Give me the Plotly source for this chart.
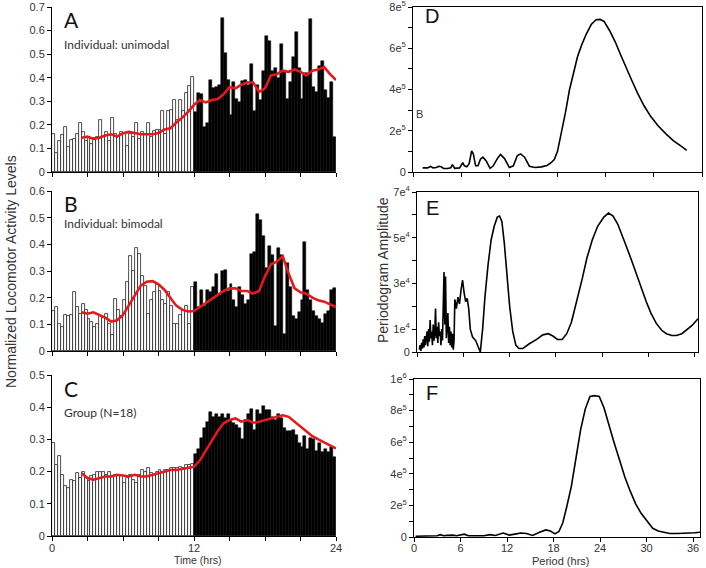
import numpy as np
import plotly.graph_objects as go

W, H = 706, 568

# ---------------- data ----------------
bin_hours = 0.25  # 15-min bins

A_light = [0.16, 0.08, 0.13, 0.155, 0.19, 0.105, 0.135, 0.14, 0.16, 0.21, 0.17, 0.13,
           0.15, 0.12, 0.145, 0.15, 0.22, 0.15, 0.17, 0.13, 0.23, 0.16, 0.15, 0.17,
           0.165, 0.11, 0.16, 0.15, 0.21, 0.14, 0.17, 0.16, 0.21, 0.15, 0.175, 0.18,
           0.18, 0.26, 0.16, 0.26, 0.265, 0.305, 0.22, 0.305, 0.26, 0.335, 0.365, 0.405]
A_dark = [0.255, 0.335, 0.33, 0.19, 0.21, 0.39, 0.355, 0.36, 0.37, 0.655, 0.505, 0.39,
          0.24, 0.38, 0.31, 0.295, 0.385, 0.39, 0.37, 0.46, 0.26, 0.37, 0.305, 0.43,
          0.575, 0.555, 0.43, 0.44, 0.40, 0.545, 0.43, 0.31, 0.38, 0.49, 0.595, 0.44,
          0.31, 0.42, 0.42, 0.65, 0.36, 0.34, 0.45, 0.47, 0.35, 0.315, 0.38, 0.15]

B_light = [0.15, 0.165, 0.10, 0.09, 0.135, 0.13, 0.135, 0.22, 0.165, 0.14, 0.175, 0.155,
           0.12, 0.11, 0.09, 0.10, 0.13, 0.125, 0.14, 0.10, 0.06, 0.195, 0.155, 0.13,
           0.19, 0.26, 0.355, 0.30, 0.385, 0.365, 0.28, 0.245, 0.14, 0.19, 0.22, 0.25,
           0.225, 0.19, 0.175, 0.22, 0.17, 0.10, 0.10, 0.135, 0.155, 0.17, 0.10, 0.24]
B_dark = [0.26, 0.165, 0.23, 0.17, 0.23, 0.22, 0.24, 0.29, 0.21, 0.30, 0.305, 0.225,
          0.25, 0.19, 0.165, 0.24, 0.21, 0.175, 0.19, 0.365, 0.37, 0.515, 0.49, 0.43,
          0.31, 0.395, 0.36, 0.095, 0.385, 0.36, 0.065, 0.33, 0.24, 0.13, 0.12, 0.145,
          0.19, 0.41, 0.23, 0.19, 0.15, 0.13, 0.12, 0.105, 0.14, 0.15, 0.23, 0.235]

C_light = [0.29, 0.22, 0.25, 0.19, 0.155, 0.15, 0.175, 0.17, 0.195, 0.18, 0.20, 0.18,
           0.17, 0.185, 0.19, 0.20, 0.20, 0.20, 0.19, 0.20, 0.185, 0.19, 0.19, 0.185,
           0.165, 0.18, 0.19, 0.175, 0.165, 0.19, 0.205, 0.20, 0.21, 0.195, 0.19, 0.20,
           0.205, 0.20, 0.205, 0.205, 0.21, 0.21, 0.21, 0.215, 0.21, 0.22, 0.22, 0.225]
C_dark = [0.255, 0.27, 0.305, 0.335, 0.355, 0.385, 0.37, 0.38, 0.37, 0.38, 0.365, 0.38,
          0.36, 0.35, 0.345, 0.335, 0.30, 0.36, 0.38, 0.395, 0.33, 0.39, 0.38, 0.405,
          0.39, 0.39, 0.37, 0.36, 0.38, 0.365, 0.335, 0.325, 0.325, 0.33, 0.315, 0.29,
          0.275, 0.31, 0.27, 0.305, 0.30, 0.265, 0.29, 0.26, 0.27, 0.26, 0.275, 0.245]

avg_hours = [2.5, 3, 3.5, 4, 4.5, 5, 5.5, 6, 6.5, 7, 7.5, 8, 8.5, 9, 9.5, 10, 10.5, 11,
             11.5, 12, 12.5, 13, 13.5, 14, 14.5, 15, 15.5, 16, 16.5, 17, 17.5, 18, 18.5,
             19, 19.5, 20, 20.5, 21, 21.5, 22, 22.5, 23, 23.5, 24]
A_avg = [0.145, 0.15, 0.14, 0.145, 0.155, 0.16, 0.15, 0.165, 0.17, 0.165, 0.16, 0.16,
         0.16, 0.165, 0.18, 0.185, 0.21, 0.23, 0.255, 0.285, 0.305, 0.295, 0.305, 0.31,
         0.33, 0.36, 0.355, 0.37, 0.38, 0.38, 0.34, 0.355, 0.41, 0.415, 0.43, 0.425,
         0.435, 0.425, 0.41, 0.43, 0.435, 0.445, 0.415, 0.39]
B_avg = [0.145, 0.14, 0.145, 0.135, 0.125, 0.11, 0.115, 0.135, 0.17, 0.21, 0.245, 0.26,
         0.262, 0.25, 0.23, 0.20, 0.17, 0.155, 0.148, 0.15, 0.165, 0.18, 0.195, 0.21,
         0.225, 0.235, 0.235, 0.225, 0.225, 0.215, 0.225, 0.28, 0.325, 0.335, 0.355, 0.29,
         0.235, 0.22, 0.215, 0.20, 0.19, 0.185, 0.175, 0.165]
C_avg = [0.195, 0.18, 0.175, 0.18, 0.185, 0.185, 0.19, 0.188, 0.185, 0.19, 0.185, 0.185,
         0.19, 0.195, 0.20, 0.205, 0.205, 0.208, 0.21, 0.215, 0.235, 0.265, 0.295, 0.325,
         0.35, 0.36, 0.365, 0.355, 0.36, 0.352, 0.355, 0.36, 0.365, 0.372, 0.375, 0.37,
         0.355, 0.34, 0.325, 0.31, 0.30, 0.29, 0.28, 0.272]

D_period = [1.2, 1.8, 2.2, 2.5, 2.9, 3.2, 3.5, 3.8, 4.3, 4.7, 4.9, 5.2, 5.8, 6.2, 6.4, 6.7,
            7.0, 7.3, 7.5, 7.8, 8.1, 8.4, 8.7, 9.1, 9.6, 10.0, 10.5, 10.9, 11.4, 12.0,
            12.5, 13.0, 13.4, 13.9, 14.5, 15.2, 16.0, 16.7, 17.2, 17.6, 18.0, 18.5, 19.0,
            19.5, 20.0, 20.5, 21.0, 21.6, 22.2, 22.8, 23.3, 23.8, 24.5, 25.2, 25.9, 26.6,
            27.3, 28.0, 28.8, 29.6, 30.5, 31.5, 32.5, 33.4, 34.1]
D_amp_e5 = [0.20, 0.20, 0.27, 0.20, 0.22, 0.28, 0.26, 0.17, 0.17, 0.20, 0.36, 0.18, 0.20,
            0.45, 0.30, 0.25, 0.40, 1.02, 0.90, 0.30, 0.30, 0.62, 0.72, 0.55, 0.18, 0.30,
            0.65, 0.85, 0.65, 0.22, 0.30, 0.80, 0.88, 0.72, 0.28, 0.22, 0.25, 0.32, 0.45,
            0.60, 1.00, 1.90, 2.90, 4.00, 4.85, 5.60, 6.15, 6.70, 7.15, 7.38, 7.40, 7.30,
            6.85, 6.30, 5.65, 5.00, 4.40, 3.80, 3.20, 2.70, 2.25, 1.85, 1.50, 1.25, 1.05]

E_period = [0.3, 0.4, 0.5, 0.6, 0.7, 0.8, 0.9, 1.0, 1.1, 1.2, 1.3, 1.4, 1.5, 1.6, 1.7, 1.8,
            1.9, 2.0, 2.1, 2.2, 2.3, 2.4, 2.5, 2.6, 2.7, 2.8, 2.9, 3.0, 3.1, 3.2, 3.3, 3.4,
            3.5, 3.6, 3.7, 3.8, 3.9, 4.0, 4.1, 4.2, 4.3, 4.4, 4.5, 4.6, 4.7, 4.8,
            4.9, 5.1, 5.3, 5.5, 5.7, 5.9, 6.1, 6.3, 6.5, 6.7, 6.9, 7.2, 7.6, 8.0, 8.2,
            8.5, 8.8, 9.2, 9.6, 10.0, 10.4, 10.7, 11.0, 11.3, 11.7, 12.0, 12.4, 12.8,
            13.2, 13.7, 14.5, 15.5, 16.3, 17.0, 17.6, 18.2, 18.8, 19.4, 20.0, 20.7,
            21.4, 22.0, 22.7, 23.4, 24.2, 24.8, 25.4, 26.0, 26.6, 27.2, 27.8, 28.4,
            29.0, 29.7, 30.3, 31.0, 31.7, 32.3, 33.0, 33.6, 34.3, 34.9, 35.6, 36.4]
E_amp_e4 = [0.1, 0.3, 0.05, 0.4, 0.15, 0.55, 0.2, 0.7, 0.3, 0.5, 0.9, 0.25, 1.0, 0.45,
            1.4, 0.6, 0.9, 0.3, 1.2, 0.5, 0.8, 1.9, 0.6, 1.1, 0.4, 1.3, 0.7, 0.9, 0.3,
            1.0, 0.5, 2.0, 3.5, 1.2, 3.3, 0.6, 1.5, 1.7, 0.4, 1.1, 0.3, 0.9, 0.2, 0.8,
            0.1, 0.5,
            2.3, 1.9, 2.4, 2.1, 2.7, 3.15, 2.6, 2.2, 2.35, 1.9, 1.0, 0.65, 0.5, 0.15,
            0.0, 1.0, 2.4, 3.8, 4.9, 5.5, 5.9, 5.95, 5.7, 4.8, 3.3, 2.0, 0.9, 0.3,
            0.15, 0.15, 0.35, 0.55, 0.75, 0.8, 0.7, 0.55, 0.55, 0.8, 1.3, 2.2,
            3.2, 4.1, 4.9, 5.5, 5.9, 6.08, 5.95, 5.6, 5.1, 4.55, 4.0, 3.4,
            2.8, 2.2, 1.7, 1.25, 0.95, 0.8, 0.72, 0.72, 0.8, 0.95, 1.15, 1.45]

F_period = [0.2, 1.0, 2.0, 3.0, 3.4, 3.8, 4.3, 5.0, 5.5, 6.0, 6.5, 7.0, 8.0, 9.0, 9.8,
            10.5, 11.5, 12.3, 13.0, 13.8, 14.5, 15.3, 16.2, 17.0, 17.6, 18.2, 18.7,
            19.2, 19.7, 20.3, 20.9, 21.5, 22.1, 22.7, 23.3, 23.9, 24.5, 25.2, 25.8,
            26.5, 27.2, 27.9, 28.6, 29.3, 30.0, 30.8, 31.5, 32.3, 33.0, 34.0, 35.0,
            35.5, 36.2, 36.9]
F_amp_e5 = [0.05, 0.05, 0.06, 0.08, 0.15, 0.08, 0.10, 0.12, 0.08, 0.12, 0.18, 0.08,
            0.07, 0.08, 0.15, 0.10, 0.25, 0.12, 0.18, 0.25, 0.22, 0.10, 0.30, 0.45,
            0.38, 0.20, 0.35, 0.90, 1.90, 3.20, 5.00, 6.80, 8.10, 8.90, 8.95, 8.90,
            8.20, 7.10, 6.00, 4.90, 3.80, 2.90, 2.10, 1.50, 1.05, 0.55, 0.38, 0.28,
            0.22, 0.22, 0.22, 0.25, 0.27, 0.30]

left_y_ticks = {"A": [0, 0.1, 0.2, 0.3, 0.4, 0.5, 0.6, 0.7],
                "B": [0, 0.1, 0.2, 0.3, 0.4, 0.5, 0.6],
                "C": [0, 0.1, 0.2, 0.3, 0.4, 0.5]}
time_major = [0, 12, 24]
time_minor = [3, 6, 9, 15, 18, 21]
period_ticks = [0, 6, 12, 18, 24, 30, 36]
period_labels = ["0", "6", "12", "18", "24", "30", "36"]

D_major = [0, 2e5, 4e5, 6e5, 8e5]
D_labels = ["0", "2e<sup>5</sup>", "4e<sup>5</sup>", "6e<sup>5</sup>", "8e<sup>5</sup>"]
D_minor = [1e5, 3e5, 5e5, 7e5]
E_major = [0, 1e4, 3e4, 5e4, 7e4]
E_labels = ["0", "1e<sup>4</sup>", "3e<sup>4</sup>", "5e<sup>4</sup>", "7e<sup>4</sup>"]
E_minor = [2e4, 4e4, 6e4]
F_major = [0, 2e5, 4e5, 6e5, 8e5, 1e6]
F_labels = ["0", "2e<sup>5</sup>", "4e<sup>5</sup>", "6e<sup>5</sup>", "8e<sup>5</sup>",
            "1e<sup>6</sup>"]
F_minor = [1e5, 3e5, 5e5, 7e5, 9e5]

# ---------------- figure ----------------
def dx(l, r):
    return [l / W, r / W]

def dy(t, b):
    return [1 - b / H, 1 - t / H]

def px(x, y):
    return x / W, 1 - y / H

fig = go.Figure()

tick_font = dict(family="Liberation Sans, Arial", size=11, color="#333333")
RED = "#e3191c"

left_panels = [("A", A_light, A_dark, A_avg, "", ""),
               ("B", B_light, B_dark, B_avg, "2", "2"),
               ("C", C_light, C_dark, C_avg, "3", "3")]
for name, light, dark, avg, xs, ys in left_panels:
    xa, ya = "x" + xs, "y" + ys
    light_x = [bin_hours * (i + 0.5) for i in range(len(light))]
    dark_x = [12 + bin_hours * (i + 0.5) for i in range(len(dark))]
    fig.add_trace(go.Bar(x=light_x, y=light, width=bin_hours, xaxis=xa, yaxis=ya,
                         marker=dict(color="white", line=dict(color="#222222", width=0.8)),
                         showlegend=False, hoverinfo="skip"))
    fig.add_trace(go.Bar(x=dark_x, y=dark, width=bin_hours, xaxis=xa, yaxis=ya,
                         marker=dict(color="black", line=dict(color="black", width=0.5)),
                         showlegend=False, hoverinfo="skip"))
    fig.add_trace(go.Scatter(x=avg_hours, y=avg, mode="lines", xaxis=xa, yaxis=ya,
                             line=dict(color=RED, width=2.6), showlegend=False,
                             hoverinfo="skip"))

right_panels = [(D_period, [v * 1e5 for v in D_amp_e5], "4", "4"),
                (E_period, [v * 1e4 for v in E_amp_e4], "5", "5"),
                (F_period, [v * 1e5 for v in F_amp_e5], "6", "6")]
for per, amp, xs, ys in right_panels:
    fig.add_trace(go.Scatter(x=per, y=amp, mode="lines", xaxis="x" + xs, yaxis="y" + ys,
                             line=dict(color="black", width=1.6), showlegend=False,
                             hoverinfo="skip"))

common_axis = dict(showline=True, linecolor="black", linewidth=1, ticks="outside",
                   ticklen=4, tickcolor="black", showgrid=False, zeroline=False,
                   tickfont=tick_font, fixedrange=True, automargin=False,
                   ticklabeloverflow="allow", tickmode="array")

def minor(vals):
    return dict(tickmode="array", tickvals=vals, ticks="outside", ticklen=4,
                tickcolor="black", showgrid=False)

layout = dict(width=W, height=H, margin=dict(l=0, r=0, t=0, b=0, autoexpand=False),
              paper_bgcolor="white", plot_bgcolor="white", bargap=0, barmode="overlay",
              showlegend=False)

# left panels
left_y = {"": ((7, 172), [0, 0.7], "A"), "2": ((191, 351), [0, 0.6], "B"),
          "3": ((375, 536), [0, 0.5], "C")}
for s, ((t, b), rng, name) in left_y.items():
    layout["xaxis" + s] = dict(common_axis, domain=dx(52, 336), range=[0, 24],
                               anchor="y" + s, tickvals=time_major,
                               ticktext=[str(v) for v in time_major],
                               showticklabels=(s == "3"), ticklabelstandoff=-2,
                               minor=minor(time_minor))
    layout["yaxis" + s] = dict(common_axis, domain=dy(t, b), range=rng, anchor="x" + s,
                               tickvals=left_y_ticks[name],
                               ticktext=[("%g" % v) for v in left_y_ticks[name]])

# right panels
right = {"4": ((413, 702), [0, 36], (7, 172), [0, 8e5], D_major, D_labels, D_minor, False),
         "5": ((417, 698), [0, 36.4], (192, 352), [0, 7e4], E_major, E_labels, E_minor, False),
         "6": ((414, 700), [0, 36.9], (379, 537), [0, 1e6], F_major, F_labels, F_minor, True)}
for s, ((l, r), xr, (t, b), yr, yt, yl, ym, show_x) in right.items():
    layout["xaxis" + s] = dict(common_axis, domain=dx(l, r), range=xr, anchor="y" + s,
                               mirror=True, tickvals=period_ticks, ticktext=period_labels,
                               showticklabels=show_x, ticklabelstandoff=-3)
    layout["yaxis" + s] = dict(common_axis, domain=dy(t, b), range=yr, anchor="x" + s,
                               mirror=True, tickvals=yt, ticktext=yl, minor=minor(ym))

fig.update_layout(**layout)

ann = []
def text(x, y, s, size, family="Lato", color="#222222", xanchor="left", angle=0):
    ax, ay = px(x, y)
    ann.append(dict(x=ax, y=ay, xref="paper", yref="paper", text=s, showarrow=False,
                    xanchor=xanchor, yanchor="middle", textangle=angle,
                    font=dict(size=size, family=family, color=color)))

text(62, 20, "A", 21, "Lato", "#111111")
text(62, 44, "Individual: unimodal", 12, "Lato", "#333333")
text(62, 204, "B", 21, "Lato", "#111111")
text(62, 224, "Individual: bimodal", 12, "Lato", "#333333")
text(62, 388, "C", 21, "Lato", "#111111")
text(62, 412, "Group (N=18)", 12, "Lato", "#333333")
text(423, 16, "D", 20, "Liberation Sans", "#111111")
text(424, 208, "E", 20, "Liberation Sans", "#111111")
text(424, 393, "F", 20, "Liberation Sans", "#111111")
text(419, 114, "B", 11, "Liberation Sans", "#333333", xanchor="center")
text(197, 560, "Time (hrs)", 10.5, "Liberation Sans", "#333333", xanchor="center")
text(560, 560.5, "Period (hrs)", 11, "Liberation Sans", "#333333", xanchor="center")
text(11, 272, "Normalized Locomotor Activity Levels", 14, "Liberation Sans", "#333333",
     xanchor="center", angle=-90)
text(383, 270, "Periodogram Amplitude", 14, "Liberation Sans", "#333333",
     xanchor="center", angle=-90)
fig.update_layout(annotations=ann)

fig.write_html("out.html", config={"displayModeBar": False},
               post_script="document.body.style.margin='0px';"
                           "document.body.style.overflow='hidden';")
